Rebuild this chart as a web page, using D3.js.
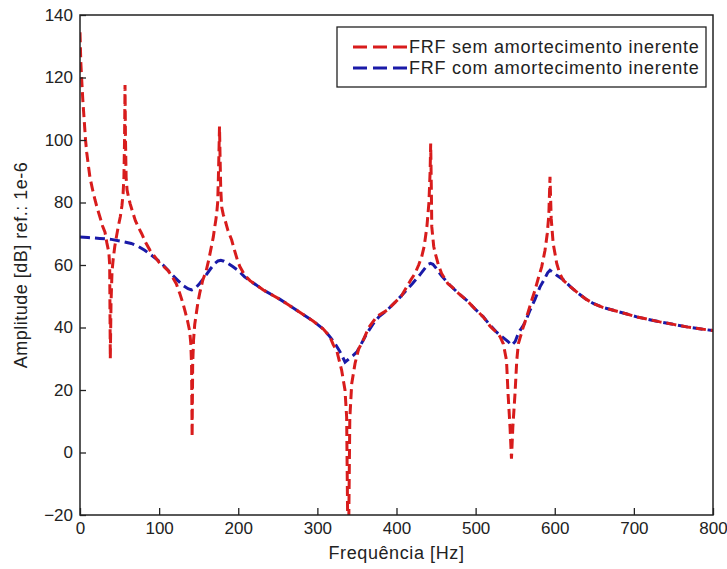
<!DOCTYPE html>
<html><head><meta charset="utf-8">
<script src="https://cdn.jsdelivr.net/npm/d3@7"></script>
<style>body{margin:0;background:#fff}svg{display:block}text{font-family:"Liberation Sans",Arial,sans-serif;fill:#222}</style>
</head><body><svg id="c" width="727" height="569"></svg>
<script>
const xTicks=[0,100,200,300,400,500,600,700,800];
const yTicks=[-20,0,20,40,60,80,100,120,140];
const seriesNames=["FRF sem amortecimento inerente","FRF com amortecimento inerente"];
const redFreq=[0,1,2,3.5,5,7,8.5,10.5,12.6,16,19,22,25.3,28.5,31.6,34,36.5,37.5,38.3,39.2,40.5,42,44,46,48.5,51,53,54.5,55.5,56.3,56.9,57.5,58.3,59.5,61.5,63.5,66.5,70,74,78,83,88.5,95,101,106,111,116,121.7,126,130,133,136,138.5,140,141,141.7,142.4,143.5,145,147,149,151.3,155,159.6,163,166,168.5,170.2,171.7,172.8,174,174.8,175.6,176.3,177,177.8,179,181,183.3,187,191.7,195.5,199,202,208,214.8,231.7,252.8,273.9,295,307.5,316,320,324.4,330.7,334.9,337,339,341,343.4,347.6,352,358,365,375,388,400,406,412.9,418,423.4,428,431.8,435,438.4,441,442.5,443.2,444,444.6,447,449,453,457,465,470,478,488.7,499,509.7,518,522,526.6,531,535,539,541,543.5,545.3,547,549.8,552,554,556,560,564.5,570,575,580,583.5,587.7,590.5,592.5,594,595.5,598,602.5,606,610.8,620,629.8,640,648.7,660,674,690,703.6,720,733,750,766.7,783,800];
const redAmp=[134.5,125,120,113,107.5,100,96,92,88,84,80.8,78,75.3,72.5,70.5,67,64,60,30,48,58,62,66,69,72.5,75.5,79,83,88,100,117.6,100,88,84,81.5,79.5,77,74.2,72,70,67.2,64.7,62.5,60.5,59.5,58.3,56.5,54,51,47.8,45,42,39,35,28,5,28,36,41,44.5,48,51,55,58.3,62,65.8,69,72,74.5,76.6,80,87,95.7,104.3,95,85,78.6,76.2,74.4,71,68,64.5,61.5,59.5,56.8,55,52,49,45.5,42,39.5,37,34.5,32.7,26.3,20,11.3,-40,11,22,28.5,33,36,40,43.5,45.5,48.5,50,53,55.2,57.3,60,62.6,66,72.2,80,90,98.9,85,72.2,66,63.7,60,57.3,54,53,51,48.7,46,43.4,40.5,39.5,38.5,37,34.8,29.5,18.8,8,-2,8,18.9,29.5,34.8,36.5,40,43.4,48,51.9,56.5,59.4,64.7,70,76,88.2,75,66.9,60.5,57.5,55.1,53,50.9,49,47.7,46.5,45.5,44.4,43.4,42.5,41.8,41,40.2,39.6,39];
const blueFreq=[0,10,25,39.6,52,64.8,74,81.8,90,98.6,105,111.2,117,123.9,130,136.5,141,145,151,157.6,165,170,174.4,178,182,187,193,199.7,208,214.8,231.7,252.8,273.9,295,307.5,316,322,328,332,335,340,345,350,356,362.3,370,378,388,400,410,420,430,437,440,443,446,450,457,467.6,478,488.7,499,509.7,518,526.6,531,536,541,545.6,550,553,556,560,564,568.7,575,581.4,587,591,594,598,603,610.8,620,629.8,640,648.7,660,674,690,703.6,720,733,750,766.7,783,800];
const blueAmp=[69,68.8,68.5,68.2,67.6,66.9,65.9,64.7,63.2,61.5,60,58.3,56.7,55,53.5,52.4,52,52.4,54,56.2,58.8,60.4,61.3,61.5,61.2,60.5,59.5,58.3,56.2,55,52,49,45.5,42,39.5,37,35,32.5,30.5,28.9,30,31,32.2,35,38,41,43.5,45.5,48.5,51.2,54,57,59.3,60.2,60.5,60.2,59,56.5,53.5,51,48.7,46,43.4,40.8,38.5,37.5,36.5,35.5,34.3,35.5,37.5,39,40.5,42.5,45.5,49,53,55.5,57.5,58.3,57.6,56.6,55.3,53,50.9,49,47.7,46.5,45.5,44.4,43.4,42.5,41.8,41,40.2,39.6,39];

const svg=d3.select("#c");
const m={l:80,r:713,t:15,b:515};
const x=d3.scaleLinear().domain([0,800]).range([m.l,m.r]);
const y=d3.scaleLinear().domain([-20,140]).range([m.b,m.t]);
svg.append("defs").append("clipPath").attr("id","pc").append("rect")
  .attr("x",m.l).attr("y",m.t).attr("width",m.r-m.l).attr("height",m.b-m.t);

const red="#d81c1c", blue="#1a1aa8";
const line=d3.line().x(d=>x(d[0])).y(d=>y(d[1]));
const redData=redFreq.map((f,i)=>[f,redAmp[i]]);
const blueData=blueFreq.map((f,i)=>[f,blueAmp[i]]);
const g=svg.append("g").attr("clip-path","url(#pc)");
g.append("path").datum(blueData).attr("d",line).attr("fill","none").attr("stroke",blue)
  .attr("stroke-width",3).attr("stroke-dasharray","10,5");
g.append("path").datum(redData).attr("d",line).attr("fill","none").attr("stroke",red)
  .attr("stroke-width",3).attr("stroke-dasharray","10,5");

// axes
const ax=svg.append("g").attr("transform",`translate(0,${m.b})`)
  .call(d3.axisBottom(x).tickValues(xTicks).tickSizeInner(-7).tickSizeOuter(0).tickPadding(7));
const ay=svg.append("g").attr("transform",`translate(${m.l},0)`)
  .call(d3.axisLeft(y).tickValues(yTicks).tickSizeInner(-6).tickSizeOuter(0).tickPadding(7));
[ax,ay].forEach(a=>{a.select(".domain").remove();a.selectAll("line").attr("stroke","#222").attr("stroke-width",1.3);
  a.selectAll("text").style("font-size","17px").style("font-family","Liberation Sans, Arial, sans-serif").attr("fill","#222");});
svg.append("rect").attr("x",m.l).attr("y",m.t).attr("width",m.r-m.l).attr("height",m.b-m.t)
  .attr("fill","none").attr("stroke","#222").attr("stroke-width",1.5);

svg.append("text").attr("x",(m.l+m.r)/2).attr("y",559).attr("text-anchor","middle")
  .style("font-size","18px").style("letter-spacing","0.6px").text("Frequência [Hz]");
svg.append("text").attr("transform",`translate(27,${(m.t+m.b)/2}) rotate(-90)`).attr("text-anchor","middle")
  .style("font-size","18px").style("letter-spacing","0.5px").text("Amplitude [dB] ref.: 1e-6");

// legend
const lg=svg.append("g");
lg.append("rect").attr("x",337).attr("y",27).attr("width",369).attr("height",60)
  .attr("fill","#fff").attr("stroke","#222").attr("stroke-width",1.3);
[[red,47],[blue,68]].forEach((s,i)=>{
  lg.append("line").attr("x1",353).attr("x2",407).attr("y1",s[1]).attr("y2",s[1])
    .attr("stroke",s[0]).attr("stroke-width",3).attr("stroke-dasharray","14,6");
  lg.append("text").attr("x",409).attr("y",s[1]+6).style("font-size","18px").style("letter-spacing","0.75px").text(seriesNames[i]);
});
</script></body></html>
